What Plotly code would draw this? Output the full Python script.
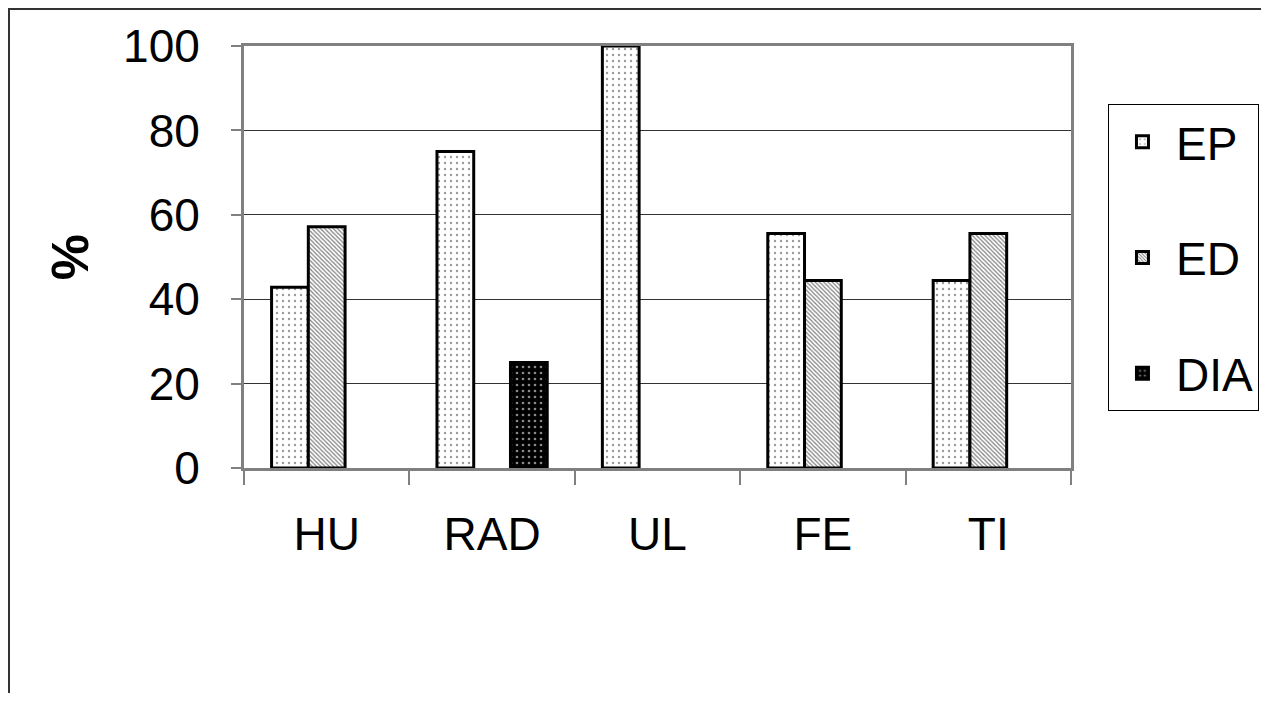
import plotly.graph_objects as go

categories = ['HU', 'RAD', 'UL', 'FE', 'TI']
ep_values = [42.86, 75, 100, 55.56, 44.44]
ed_values = [57.14, None, None, 44.44, 55.56]
dia_values = [None, 25, None, None, None]
y_ticks = [0, 20, 40, 60, 80, 100]

FONT = 'Liberation Sans, Arial, sans-serif'

# page body has an 8px margin, so the figure is sized to fit inside the window
W, H = 1253, 685
L, T = 236, 38          # plot area left / top inside the figure
PW, PH = 827, 422       # plot area size

fig = go.Figure()

# three bar series, Excel-like pattern fills
fig.add_trace(go.Bar(
    x=categories, y=ep_values, name='EP', legendgroup='ep',
    marker=dict(color='white', line=dict(color='black', width=3),
                pattern=dict(shape='.', size=6, solidity=0.12,
                             fgcolor='#9a9a9a', bgcolor='white', fillmode='replace'))
))
fig.add_trace(go.Bar(
    x=categories, y=ed_values, name='ED', legendgroup='ed',
    marker=dict(color='white', line=dict(color='black', width=3),
                pattern=dict(shape='\\', size=3, solidity=0.4,
                             fgcolor='#808080', bgcolor='white', fillmode='replace'))
))
fig.add_trace(go.Bar(
    x=categories, y=dia_values, name='DIA', legendgroup='dia',
    marker=dict(color='black', line=dict(color='black', width=3),
                pattern=dict(shape='.', size=6, solidity=0.15,
                             fgcolor='#8a8a8a', bgcolor='black', fillmode='replace'))
))

fig.update_layout(
    width=W, height=H,
    margin=dict(l=L, r=W - L - PW, t=T, b=H - T - PH, autoexpand=False),
    paper_bgcolor='white', plot_bgcolor='white',
    font=dict(family=FONT, size=46, color='black'),
    barmode='group', bargap=1/3, bargroupgap=0,
    showlegend=True,
    legend=dict(
        x=1.0447, xanchor='left', y=0.862, yanchor='top',
        bordercolor='black', borderwidth=1, bgcolor='white',
        font=dict(family=FONT, size=46),
        traceorder='grouped', tracegroupgap=53,
        itemwidth=57,
    ),
)

fig.update_xaxes(
    type='category', tickson='boundaries',
    ticks='outside', ticklen=14, tickcolor='#808080', tickwidth=2,
    ticklabelstandoff=24,
    showline=True, linecolor='#808080', linewidth=3, mirror=True,
    showgrid=False,
)
fig.update_yaxes(
    range=[0, 100], tickvals=y_ticks,
    ticks='outside', ticklen=10, tickcolor='#808080', tickwidth=2,
    ticklabelstandoff=22,
    showline=True, linecolor='#808080', linewidth=3, mirror=True,
    showgrid=True, gridcolor='#333333', gridwidth=1,
    zeroline=False,
    title=dict(text='<b>%</b>', font=dict(family=FONT, size=52), standoff=18),
)

# outer chart frame (only its top and left edges fall inside the picture)
fig.add_shape(type='rect', xref='paper', yref='paper',
              x0=(1 - L) / PW, x1=1.5, y0=-0.8, y1=(T + PH - 1) / PH,
              line=dict(color='#333333', width=2), layer='below')

fig.write_html('out.html')
